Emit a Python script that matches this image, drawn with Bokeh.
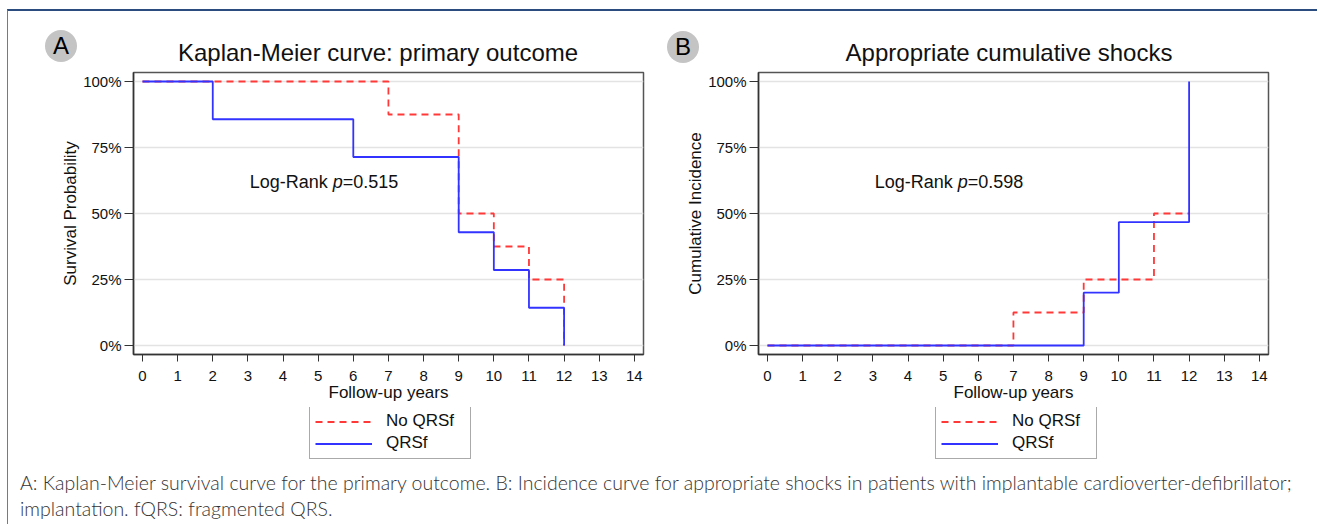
from bokeh.plotting import figure
from bokeh.models import Label, Legend, LegendItem, FixedTicker, Range1d, Div
from bokeh.layouts import row, column
from bokeh.embed import file_html
from bokeh.resources import INLINE

# ---------------- data ----------------
years = list(range(0, 15))
x_tick_labels = [str(v) for v in years]
y_ticks = [0.0, 0.25, 0.5, 0.75, 1.0]
y_tick_labels = ["0%", "25%", "50%", "75%", "100%"]

series_names = ["No QRSf", "QRSf"]

# Panel A: Kaplan-Meier survival
km_time_no_qrsf = [0, 7, 9, 10, 11, 12]
km_surv_no_qrsf = [1.0, 0.875, 0.5, 0.375, 0.25, 0.0]
km_time_qrsf = [0, 2, 6, 9, 10, 11, 12]
km_surv_qrsf = [1.0, 0.857, 0.714, 0.429, 0.286, 0.143, 0.0]

# Panel B: cumulative incidence of appropriate shocks
sh_time_no_qrsf = [0, 7, 9, 11, 12]
sh_inc_no_qrsf = [0.0, 0.125, 0.25, 0.5, 0.5]
sh_time_qrsf = [0, 9, 10, 12]
sh_inc_qrsf = [0.0, 0.2, 0.467, 1.0]

titles = ["Kaplan-Meier curve: primary outcome", "Appropriate cumulative shocks"]
y_labels = ["Survival Probability", "Cumulative Incidence"]
x_label = "Follow-up years"
p_values = ["0.515", "0.598"]
panel_letters = ["A", "B"]
caption_lines = [
    "A: Kaplan-Meier survival curve for the primary outcome. B: Incidence curve for appropriate shocks in patients with implantable cardioverter-defibrillator;",
    "implantation. fQRS: fragmented QRS.",
]

FONT = "Liberation Sans"
RED = "#ff3838"
BLUE = "#3333ff"
RED_STYLE = dict(line_color=RED, line_width=1.8, line_dash="7 5")
BLUE_STYLE = dict(line_color=BLUE, line_width=1.8)


def make_panel(width, border_left, pval, ylab, t_red, v_red, t_blue, v_blue):
    p = figure(width=width, height=338, output_backend="svg",
               toolbar_location=None, title=None,
               x_range=Range1d(-0.256, 14.26), y_range=Range1d(-0.034, 1.034),
               min_border_left=border_left, min_border_right=width - border_left - 510,
               min_border_top=3, min_border_bottom=53)

    p.outline_line_color = "#555555"
    p.outline_line_width = 1.5
    p.background_fill_color = "white"
    p.border_fill_color = "white"

    p.xgrid.visible = False
    p.ygrid.ticker = FixedTicker(ticks=y_ticks)
    p.ygrid.grid_line_color = "#e3e3e3"
    p.ygrid.grid_line_width = 1.5

    p.xaxis.ticker = FixedTicker(ticks=years)
    p.xaxis.major_label_overrides = {v: s for v, s in zip(years, x_tick_labels)}
    p.yaxis.ticker = FixedTicker(ticks=y_ticks)
    p.yaxis.major_label_overrides = {v: s for v, s in zip(y_ticks, y_tick_labels)}
    for ax in (p.xaxis, p.yaxis):
        ax.axis_line_color = "#333333"
        ax.axis_line_width = 1.5
        ax.major_tick_line_color = "#333333"
        ax.major_tick_line_width = 1
        ax.major_tick_in = 0
        ax.minor_tick_line_color = None
        ax.major_label_text_font = FONT
        ax.major_label_text_font_size = "15px"
        ax.major_label_text_color = "#111111"
        ax.axis_label_text_font = FONT
        ax.axis_label_text_font_size = "17px"
        ax.axis_label_text_font_style = "normal"
        ax.axis_label_text_color = "#111111"
    p.xaxis.major_tick_out = 7
    p.yaxis.major_tick_out = 9
    p.xaxis.major_label_standoff = 9
    p.yaxis.major_label_standoff = 3
    p.xaxis.axis_label = x_label
    p.yaxis.axis_label = ylab
    p.xaxis.axis_label_standoff = -1
    p.yaxis.axis_label_standoff = 0

    p.step(t_red, v_red, mode="after", **RED_STYLE)
    p.step(t_blue, v_blue, mode="after", **BLUE_STYLE)

    # Log-Rank annotation
    base = dict(x=3.05, y=0.62, text_font=FONT, text_font_size="18px",
                text_baseline="middle", text_color="#111111")
    p.add_layout(Label(text="Log-Rank ", **base))
    p.add_layout(Label(text="p", x_offset=83.0, text_font_style="italic",
                       **base))
    p.add_layout(Label(text="=" + pval, x_offset=93.0, **base))
    return p


def make_legend_strip(width, border_left, box_left, t_red, v_red, t_blue, v_blue):
    # the strip's x range lies away from the data, so its lines only feed the legend
    lf = figure(width=width, height=58, output_backend="svg",
                toolbar_location=None, title=None,
                x_axis_location=None, y_axis_location=None,
                x_range=Range1d(-20, -19), y_range=Range1d(0, 1),
                min_border_left=border_left, min_border_right=width - border_left - 510,
                min_border_top=0, min_border_bottom=0)
    lf.outline_line_color = None
    lf.grid.visible = False
    r_red = lf.step(t_red, v_red, mode="after", **RED_STYLE)
    r_blue = lf.step(t_blue, v_blue, mode="after", **BLUE_STYLE)
    legend = Legend(items=[LegendItem(label=series_names[0], renderers=[r_red]),
                           LegendItem(label=series_names[1], renderers=[r_blue])],
                    location=(box_left, 6), orientation="vertical")
    legend.border_line_color = "#555555"
    legend.border_line_width = 1.2
    legend.background_fill_color = "white"
    legend.background_fill_alpha = 1
    legend.label_text_font = FONT
    legend.label_text_font_size = "17px"
    legend.label_text_color = "#111111"
    legend.glyph_width = 57
    legend.glyph_height = 19
    legend.label_standoff = 14
    legend.label_width = 79
    legend.padding = 5
    legend.spacing = 2
    legend.margin = 0
    lf.add_layout(legend)
    return lf


pA = make_panel(650, 125, p_values[0], y_labels[0],
                km_time_no_qrsf, km_surv_no_qrsf, km_time_qrsf, km_surv_qrsf)
pB = make_panel(659, 100, p_values[1], y_labels[1],
                sh_time_no_qrsf, sh_inc_no_qrsf, sh_time_qrsf, sh_inc_qrsf)
lA = make_legend_strip(650, 125, 176,
                       km_time_no_qrsf, km_surv_no_qrsf, km_time_qrsf, km_surv_qrsf)
lB = make_legend_strip(659, 100, 177,
                       sh_time_no_qrsf, sh_inc_no_qrsf, sh_time_qrsf, sh_inc_qrsf)

badge_css = ("position:absolute;width:32px;height:32px;border-radius:50%;"
             "background:#c4c4c4;font-family:'Liberation Sans';font-size:24px;"
             "line-height:32px;text-align:center;color:#000;")
title_css = ("position:absolute;top:29px;transform:translateX(-50%);white-space:nowrap;"
             "font-family:'Liberation Sans';font-size:24px;line-height:26px;color:#111;")
header_html = (
    '<div style="position:relative;width:1309px;height:58px;">'
    f'<div style="{badge_css}left:37px;top:19px;">{panel_letters[0]}</div>'
    f'<div style="{title_css}left:370px;">{titles[0]}</div>'
    f'<div style="{badge_css}left:659px;top:20px;">{panel_letters[1]}</div>'
    f'<div style="{title_css}left:1001px;">{titles[1]}</div>'
    '</div>'
)
header = Div(text=header_html, width=1309, height=58, margin=0)

caption_html = (
    '<div style="padding:5px 0 0 12px;font-family:Lato;font-weight:300;font-size:19.5px;'
    'line-height:26px;color:#333333;white-space:nowrap;">'
    + "<br>".join(caption_lines) + '</div>'
)
caption = Div(text=caption_html, width=1309, height=59, margin=0)

layout = column(header, row(column(pA, lA), column(pB, lB)), caption,
                margin=(9, 0, 0, 7),
                styles={"border-top": "2px solid #2b4c7e",
                        "border-left": "1px solid #5a7fb5"})

open("out.html", "w").write(file_html(layout, INLINE))
